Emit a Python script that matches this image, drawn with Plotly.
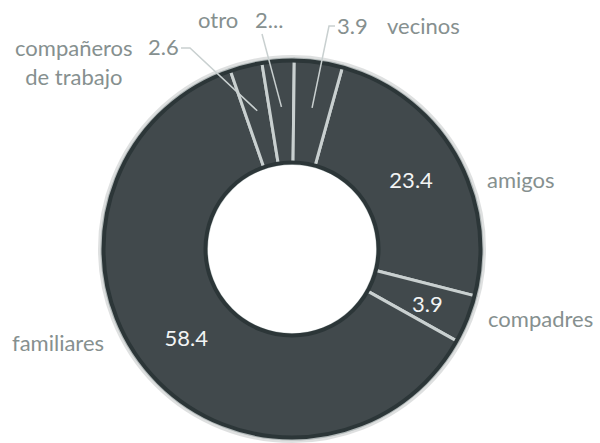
import math
import plotly.graph_objects as go

# Relationship categories and their shares (clockwise from the top-right)
categories = ["amigos", "compadres", "familiares", "compañeros de trabajo", "otro", "vecinos"]
values = [23.4, 3.9, 58.4, 2.6, 2.6, 3.9]
value_text = ["23.4", "3.9", "58.4", "2.6", "2...", "3.9"]
inside = [True, False, True, False, False, False]

W, H = 600, 443
CX, CY, R = 292, 249, 190      # pie centre / radius in pixels
ROT = 15.5                     # start angle of the first slice (deg clockwise from top)
HOLE = 0.45

slice_col = "#41494c"
edge_col = "#c9d0d0"
rim_col = "#2c3638"
label_col = "#86908f"
font_fam = "Lato"
fs = 22

def px(x):
    return x / W

def py(y):
    return 1 - y / H

fig = go.Figure()

fig.add_trace(go.Pie(
    labels=categories,
    values=values,
    text=[t if ins else "" for t, ins in zip(value_text, inside)],
    textinfo="text",
    textposition=["inside" if ins else "none" for ins in inside],
    insidetextorientation="horizontal",
    insidetextfont=dict(color="#f2f4f4", size=fs, family=font_fam),
    hole=HOLE,
    sort=False,
    direction="clockwise",
    rotation=ROT,
    marker=dict(colors=[slice_col] * len(values), line=dict(color=edge_col, width=3)),
    domain=dict(x=[px(CX - R), px(CX + R)], y=[py(CY + R), py(CY - R)]),
    showlegend=False,
))

# mid angle of each slice, used to anchor labels and leader lines
total = sum(values)
mids = []
acc = ROT
for v in values:
    span = v / total * 360
    mids.append(acc + span / 2)
    acc += span

def slice_point(i, frac=0.75):
    a = math.radians(mids[i])
    r = R * frac
    return CX + r * math.sin(a), CY - r * math.cos(a)

def text(x, y, s, color=label_col, xanchor="center"):
    fig.add_annotation(x=px(x), y=py(y), xref="paper", yref="paper", text=s,
                       showarrow=False, xanchor=xanchor, yanchor="middle",
                       font=dict(size=fs, color=color, family=font_fam))

def leader(points):
    path = "M " + " L ".join(f"{px(x)},{py(y)}" for x, y in points)
    fig.add_shape(type="path", path=path, xref="paper", yref="paper",
                  line=dict(color=edge_col, width=1.5))

def ring(r, color, width, opacity=1.0):
    fig.add_shape(type="circle", xref="paper", yref="paper",
                  x0=px(CX - r), x1=px(CX + r), y0=py(CY + r), y1=py(CY - r),
                  line=dict(color=color, width=width), opacity=opacity)

# dark rim on the outer and inner edges of the ring, with a soft shadow outside
r_in = R * HOLE
ring(R + 2, rim_col, 4, 0.15)
ring(R - 1.5, rim_col, 4)
ring(r_in + 1, rim_col, 4)

# value of the compadres slice, placed inside its wedge
cx3, cy3 = slice_point(1, 0.77)
text(cx3, cy3, value_text[1], color="#f2f4f4")

# outside category names
text(521, 180, categories[0])
text(540, 318, categories[1])
text(58, 342, categories[2])
text(74, 62, "compañeros<br>de trabajo")
text(218, 20, categories[4])
text(423, 25, categories[5])

# values of the narrow slices with leader lines
text(163, 47, value_text[3])
leader([(181, 48), (190, 48), slice_point(3)])
text(269, 20, value_text[4])
leader([(262, 34), slice_point(4)])
text(352, 25, value_text[5])
leader([(335, 26), (329, 26), slice_point(5)])

fig.update_layout(
    width=W, height=H,
    margin=dict(l=0, r=0, t=0, b=0),
    paper_bgcolor="white",
    plot_bgcolor="white",
)

fig.write_html("out.html")
